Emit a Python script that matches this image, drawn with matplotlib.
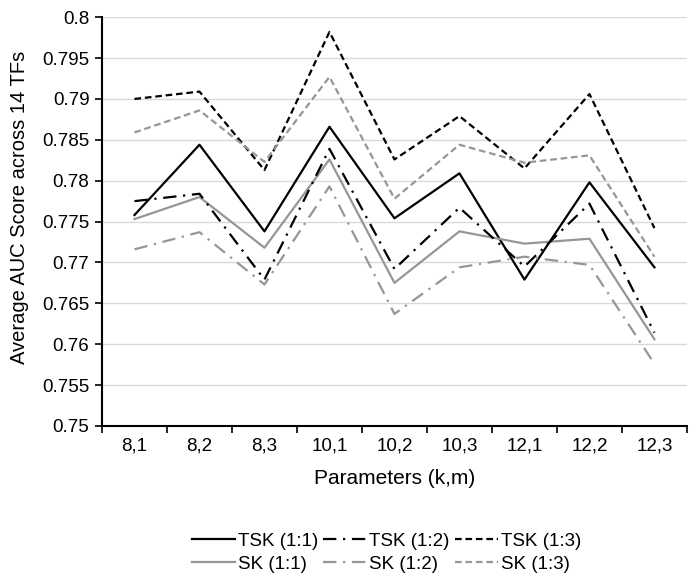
import matplotlib
matplotlib.use("Agg")
import matplotlib.pyplot as plt
import numpy as np

plt.rcParams["font.family"] = ["Liberation Sans", "DejaVu Sans"]

# ---------------------------------------------------------------------------
# Data
# ---------------------------------------------------------------------------
params = ["8,1", "8,2", "8,3", "10,1", "10,2", "10,3", "12,1", "12,2", "12,3"]

tsk_11 = [0.7758, 0.7844, 0.7738, 0.7866, 0.7754, 0.7809, 0.7679, 0.7798, 0.7694]
tsk_12 = [0.7775, 0.7784, 0.7679, 0.7839, 0.7692, 0.7767, 0.7695, 0.7772, 0.7614]
tsk_13 = [0.7900, 0.7909, 0.7813, 0.7982, 0.7826, 0.7879, 0.7815, 0.7906, 0.7742]
sk_11 = [0.7753, 0.7780, 0.7718, 0.7826, 0.7675, 0.7738, 0.7723, 0.7729, 0.7606]
sk_12 = [0.7716, 0.7737, 0.7673, 0.7793, 0.7637, 0.7694, 0.7707, 0.7697, 0.7576]
sk_13 = [0.7859, 0.7886, 0.7823, 0.7927, 0.7778, 0.7844, 0.7822, 0.7831, 0.7707]

GRAY = "#969696"
DASHDOT = (0, (6, 3, 1, 3))
DASHED = (0, (3, 1.7))

series = [
    ("TSK (1:1)", tsk_11, "black", "-"),
    ("SK (1:1)", sk_11, GRAY, "-"),
    ("TSK (1:2)", tsk_12, "black", DASHDOT),
    ("SK (1:2)", sk_12, GRAY, DASHDOT),
    ("TSK (1:3)", tsk_13, "black", DASHED),
    ("SK (1:3)", sk_13, GRAY, DASHED),
]

fig = plt.figure(figsize=(6.89, 5.74), dpi=100)
ax = fig.add_axes([0.148, 0.258, 0.849, 0.712])

x = np.arange(len(params))
for label, vals, color, ls in series:
    ax.plot(x, vals, color=color, linestyle=ls, linewidth=1.6, label=label)

ax.set_ylim(0.75, 0.8)
ax.set_yticks(np.arange(0.75, 0.8001, 0.005))
ax.set_yticklabels(["0.75", "0.755", "0.76", "0.765", "0.77", "0.775",
                    "0.78", "0.785", "0.79", "0.795", "0.8"])
ax.set_xlim(-0.5, len(params) - 0.5)
ax.set_xticks(np.arange(-0.5, len(params), 1.0))
ax.set_xticklabels([])
ax.set_xticks(x, minor=True)
ax.set_xticklabels(params, minor=True)
ax.tick_params(axis="x", which="minor", length=0, pad=8, labelsize=13.5)
ax.tick_params(axis="x", which="major", length=5, width=1.2, direction="out")
ax.tick_params(axis="y", length=5, width=1.2, labelsize=13.5, pad=4)

ax.grid(axis="y", color="#d9d9d9", linewidth=1)
ax.set_axisbelow(True)
for side in ["top", "right"]:
    ax.spines[side].set_visible(False)
ax.spines["left"].set_linewidth(1.5)
ax.spines["bottom"].set_linewidth(1.5)

ax.set_xlabel("Parameters (k,m)", fontsize=15, labelpad=11)
ax.set_ylabel("Average AUC Score across 14 TFs", fontsize=14.5)
ax.yaxis.set_label_coords(-0.125, 0.535)

fig.legend(loc="center", bbox_to_anchor=(0.561, 0.037), ncol=3,
           frameon=False, fontsize=13.5, handlelength=2.3, handletextpad=0.16,
           columnspacing=0.27, labelspacing=0.3, borderpad=0)

fig.savefig("out.png", dpi=100)
